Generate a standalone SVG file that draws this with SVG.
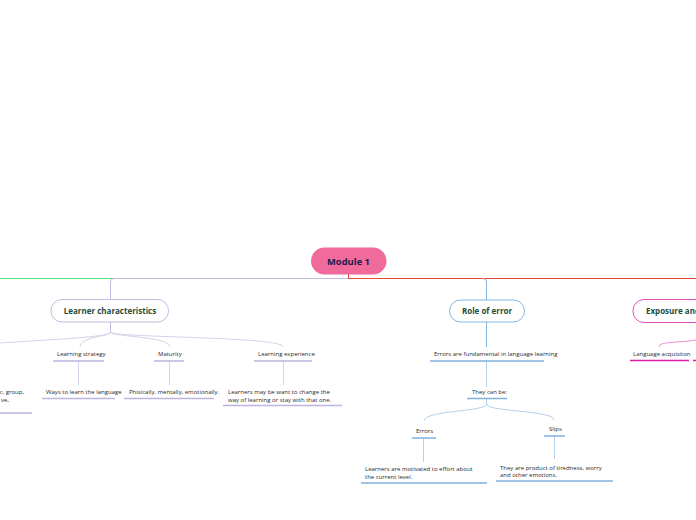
<svg xmlns="http://www.w3.org/2000/svg" width="696" height="520" viewBox="0 0 696 520">
<style>
  text { font-family: "Open Sans", "Noto Sans", "Liberation Sans", sans-serif; }
  .main { font-size: 9.4px; font-weight: bold; fill: #1c1a4d; }
  .topic { font-size: 8px; font-weight: bold; fill: #1d4d3c; }
  .sub { font-size: 6px; fill: #2a2a2a; }
  .c { fill: none; stroke-width: 1; }
  .pu { stroke: #c2bbe3; }
  .puL { stroke: #d6d2ec; }
  .bl { stroke: #86b5df; }
  .blL { stroke: #b3d0ec; }
  .ulp { stroke: #bdb5df; stroke-width: 1.5; }
  .ulb { stroke: #7fb0de; stroke-width: 1.5; }
  .ulm { stroke: #e01ea8; stroke-width: 1.5; }
</style>
<rect width="696" height="520" fill="#ffffff"/>
<g id="connectors">
  <path class="c" stroke="#4ee283" d="M348,278.5 H0"/>
  <path class="c pu" d="M348.5,274 V278.5 H114 Q110.5,278.5 110.5,282 V299"/>
  <path class="c" stroke="#e84a3a" d="M348.5,274 V278.5 H696"/>
  <path class="c bl" d="M483,278.5 Q486.5,278.5 486.5,282 V300"/>
  <path class="c pu" d="M110.5,322 V332"/>
  <path class="c puL" d="M110.5,332 C110.5,337 60,339 0,343"/>
  <path class="c puL" d="M110.5,332 C110.5,337 80,336 80,347"/>
  <path class="c puL" d="M110.5,332 C110.5,337 170,336 170,347"/>
  <path class="c puL" d="M110.5,332 C110.5,338 283,336 283,347"/>
  <path class="c puL" d="M78.5,361 V385"/>
  <path class="c puL" d="M169.5,361 V385"/>
  <path class="c puL" d="M283.5,361 V385"/>
  <path class="c bl" d="M486.5,322 V347"/>
  <path class="c blL" d="M486.5,361 V387"/>
  <path class="c blL" d="M486.5,398 V404 C486.5,412 424,410 424,421"/>
  <path class="c blL" d="M486.5,404 C486.5,412 554,410 554,420"/>
  <path class="c blL" d="M423.5,438 V462"/>
  <path class="c blL" d="M554.5,436 V459"/>
  <path class="c" stroke="#ee8ad8" d="M696,340 C680,343 659,341 659,347"/>
</g>
<g id="module1">
  <rect x="311" y="247.5" width="75.5" height="27" rx="13.5" fill="#f06b9b"/>
  <text class="main" x="348.5" y="264.5" text-anchor="middle">Module 1</text>
</g>
<g id="learner-characteristics">
  <rect x="51" y="299.5" width="117.5" height="22.5" rx="11" fill="#ffffff" stroke="#c2bbe3" stroke-width="1"/>
  <text class="topic" x="110" y="313.8" text-anchor="middle">Learner characteristics</text>
</g>
<g id="role-of-error">
  <rect x="449.5" y="300" width="75" height="22" rx="11" fill="#ffffff" stroke="#86b5df" stroke-width="1"/>
  <text class="topic" x="487" y="314" text-anchor="middle">Role of error</text>
</g>
<g id="exposure">
  <rect x="633" y="299.5" width="110" height="23" rx="11" fill="#ffffff" stroke="#e050c0" stroke-width="1"/>
  <text class="topic" x="646" y="313.8">Exposure and</text>
</g>
<g id="left-detail">
  <text class="sub" x="24" y="393.5" text-anchor="end">c, group,</text>
  <text class="sub" x="9" y="401.5" text-anchor="end">ve,</text>
  <line class="ulp" x1="0" y1="413" x2="32" y2="413"/>
</g>
<g id="learning-strategy">
  <text class="sub" x="57" y="356">Learning strategy</text>
  <line class="ulp" x1="53" y1="361" x2="104" y2="361"/>
</g>
<g id="ways-to-learn">
  <text class="sub" x="46" y="394">Ways to learn the language</text>
  <line class="ulp" x1="42" y1="398.5" x2="115" y2="398.5"/>
</g>
<g id="maturity">
  <text class="sub" x="158" y="356">Maturity</text>
  <line class="ulp" x1="154" y1="361" x2="184" y2="361"/>
</g>
<g id="phisically">
  <text class="sub" x="129" y="394">Phisically, mentally, emotionally.</text>
  <line class="ulp" x1="124" y1="398.5" x2="214" y2="398.5"/>
</g>
<g id="learning-experience">
  <text class="sub" x="258" y="356">Learning experience</text>
  <line class="ulp" x1="254" y1="361" x2="312" y2="361"/>
</g>
<g id="learners-may">
  <text class="sub" x="228" y="394">Learners may be want to change the</text>
  <text class="sub" x="228" y="401.5">way of learning or stay with that one.</text>
  <line class="ulp" x1="223" y1="405.5" x2="342" y2="405.5"/>
</g>
<g id="errors-fundamental">
  <text class="sub" x="434" y="356">Errors are fundamental in language learning</text>
  <line class="ulb" x1="430" y1="361" x2="544" y2="361"/>
</g>
<g id="they-can-be">
  <text class="sub" x="472" y="394">They can be:</text>
  <line class="ulb" x1="467" y1="398.5" x2="507" y2="398.5"/>
</g>
<g id="errors">
  <text class="sub" x="416" y="433">Errors</text>
  <line class="ulb" x1="412" y1="438" x2="436" y2="438"/>
</g>
<g id="slips">
  <text class="sub" x="549" y="431">Slips</text>
  <line class="ulb" x1="544" y1="436" x2="565" y2="436"/>
</g>
<g id="learners-motivated">
  <text class="sub" x="365" y="471">Learners are motivated to effort about</text>
  <text class="sub" x="365" y="479">the current level.</text>
  <line class="ulb" x1="361" y1="483" x2="487" y2="483"/>
</g>
<g id="they-are-product">
  <text class="sub" x="500" y="469.5">They are product of tiredness, worry</text>
  <text class="sub" x="500" y="477">and other emotions.</text>
  <line class="ulb" x1="496" y1="481" x2="613" y2="481"/>
</g>
<g id="language-acquisition">
  <text class="sub" x="633" y="356">Language acquisiton</text>
  <line class="ulm" x1="630" y1="360.5" x2="689" y2="360.5"/>
  <line class="ulm" x1="693" y1="360.5" x2="696" y2="360.5"/>
</g>
</svg>
